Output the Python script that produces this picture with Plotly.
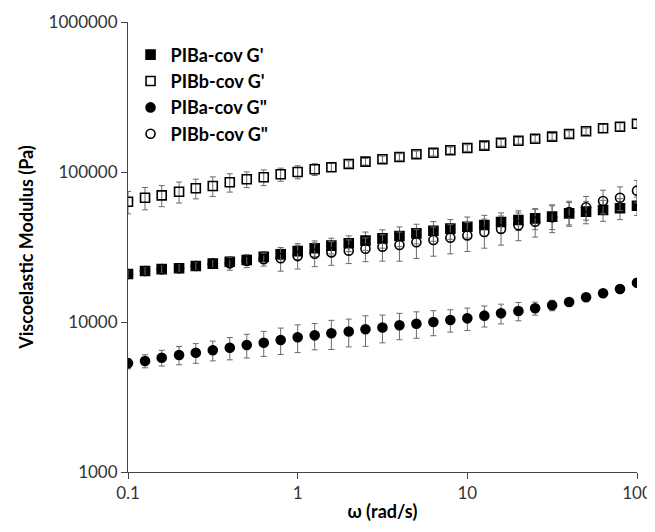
import numpy as np
import plotly.graph_objects as go

# angular frequency, 10 points per decade from 0.1 to 100 rad/s
omega = [0.1, 0.126, 0.158, 0.2, 0.251, 0.316, 0.398, 0.501, 0.631, 0.794,
         1.0, 1.26, 1.58, 2.0, 2.51, 3.16, 3.98, 5.01, 6.31, 7.94,
         10.0, 12.6, 15.8, 20.0, 25.1, 31.6, 39.8, 50.1, 63.1, 79.4, 100.0]

pia_gp = [20900, 21900, 22500, 22800, 23600, 24500, 25200, 25900, 27200, 28300,
          29700, 31000, 32300, 33500, 34900, 36100, 37400, 39000, 40600, 41900,
          43200, 44300, 46400, 47900, 49100, 50400, 53000, 54400, 55800, 57300, 59600]
pia_gp_err = [0.06, 0.06, 0.06, 0.06, 0.06, 0.06, 0.08, 0.08, 0.08, 0.08,
              0.12, 0.12, 0.12, 0.12, 0.14, 0.14, 0.15, 0.15, 0.15, 0.15,
              0.16, 0.16, 0.15, 0.15, 0.16, 0.18, 0.18, 0.17, 0.16, 0.16, 0.14]

pib_gp = [63400, 67400, 69900, 73900, 77900, 80700, 85400, 89400, 92200, 96500,
          100000, 104200, 107500, 113100, 117200, 121500, 125900, 131200, 134500, 139500,
          144500, 149800, 156800, 161700, 166700, 172000, 179200, 186800, 195600, 200400, 209900]
pib_gp_err = [0.17, 0.17, 0.16, 0.16, 0.15, 0.15, 0.14, 0.12, 0.12, 0.10,
              0.10, 0.09, 0.06, 0.05, 0.05, 0.05, 0.05, 0.05, 0.05, 0.05,
              0.05, 0.05, 0.05, 0.05, 0.05, 0.05, 0.05, 0.05, 0.06, 0.06, 0.06]

pia_gpp = [5300, 5500, 5780, 6030, 6240, 6480, 6740, 7020, 7280, 7590,
           7910, 8150, 8410, 8640, 8940, 9190, 9520, 9740, 10000, 10310,
           10580, 11020, 11430, 11840, 12340, 12920, 13600, 14610, 15540, 16600, 18280]
pia_gpp_err = [0.08, 0.10, 0.12, 0.14, 0.15, 0.15, 0.17, 0.18, 0.19, 0.20,
               0.21, 0.20, 0.22, 0.21, 0.23, 0.21, 0.20, 0.20, 0.19, 0.17,
               0.17, 0.16, 0.15, 0.14, 0.10, 0.08, 0.05, 0.03, 0.02, 0.02, 0.02]

pib_gpp = [20900, 21900, 22500, 22800, 23600, 24500, 24600, 25600, 26200, 26600,
           27500, 28500, 29100, 29900, 30800, 31800, 32600, 34000, 35200, 36500,
           37800, 39800, 41700, 44100, 46600, 49900, 54100, 58200, 64100, 67400, 75100]
pib_gpp_err = [0.06, 0.06, 0.06, 0.06, 0.06, 0.06, 0.10, 0.10, 0.10, 0.18,
               0.18, 0.18, 0.18, 0.18, 0.18, 0.20, 0.22, 0.22, 0.22, 0.22,
               0.22, 0.22, 0.22, 0.21, 0.21, 0.21, 0.18, 0.18, 0.18, 0.18, 0.17]

series = [
    ("PIBa-cov G'", pia_gp, pia_gp_err, "square"),
    ("PIBb-cov G'", pib_gp, pib_gp_err, "square-open"),
    ("PIBa-cov G\"", pia_gpp, pia_gpp_err, "circle"),
    ("PIBb-cov G\"", pib_gpp, pib_gpp_err, "circle-open"),
]

font = "Lato, 'Open Sans', sans-serif"
fig = go.Figure()
for name, vals, errs, sym in series:
    v = np.array(vals, dtype=float)
    e = v * np.array(errs)
    fig.add_trace(go.Scatter(
        x=omega, y=vals, name=name, mode="markers",
        marker=dict(symbol=sym, size=9, color="black",
                    line=dict(color="black", width=1.6)),
        error_y=dict(type="data", array=e, visible=True,
                     color="#6a6a6a", thickness=1, width=3),
    ))

# page body has an 8px margin, so the figure is sized to fit the 655x532 window
fig.update_layout(
    width=647, height=524,
    margin=dict(l=120, r=18, t=14, b=60),
    paper_bgcolor="white", plot_bgcolor="white",
    font=dict(family=font, size=17, color="#333"),
    showlegend=True,
    legend=dict(x=0.005, y=0.968, xanchor="left", yanchor="top",
                bgcolor="rgba(0,0,0,0)", tracegroupgap=0,
                itemwidth=30,
                font=dict(family=font, size=18, color="black", weight="bold")),
    xaxis=dict(type="log", range=[-1, 2], automargin=False,
               tickvals=[0.1, 1, 10, 100], ticktext=["0.1", "1", "10", "100"],
               showline=True, linecolor="#444", linewidth=1,
               ticks="outside", ticklen=6, tickcolor="#444",
               showgrid=False, zeroline=False,
               title=dict(text="<b>ω (rad/s)</b>", font=dict(size=18, color="black"), standoff=2)),
    yaxis=dict(type="log", range=[3, 6], automargin=False,
               tickvals=[1000, 10000, 100000, 1000000],
               ticktext=["1000", "10000", "100000", "1000000"],
               showline=True, linecolor="#444", linewidth=1,
               ticks="outside", ticklen=6, tickcolor="#444",
               showgrid=False, zeroline=False,
               title=dict(text="<b>Viscoelastic Modulus (Pa)</b>", font=dict(size=18, color="black"), standoff=10)),
)

fig.write_html("out.html")
